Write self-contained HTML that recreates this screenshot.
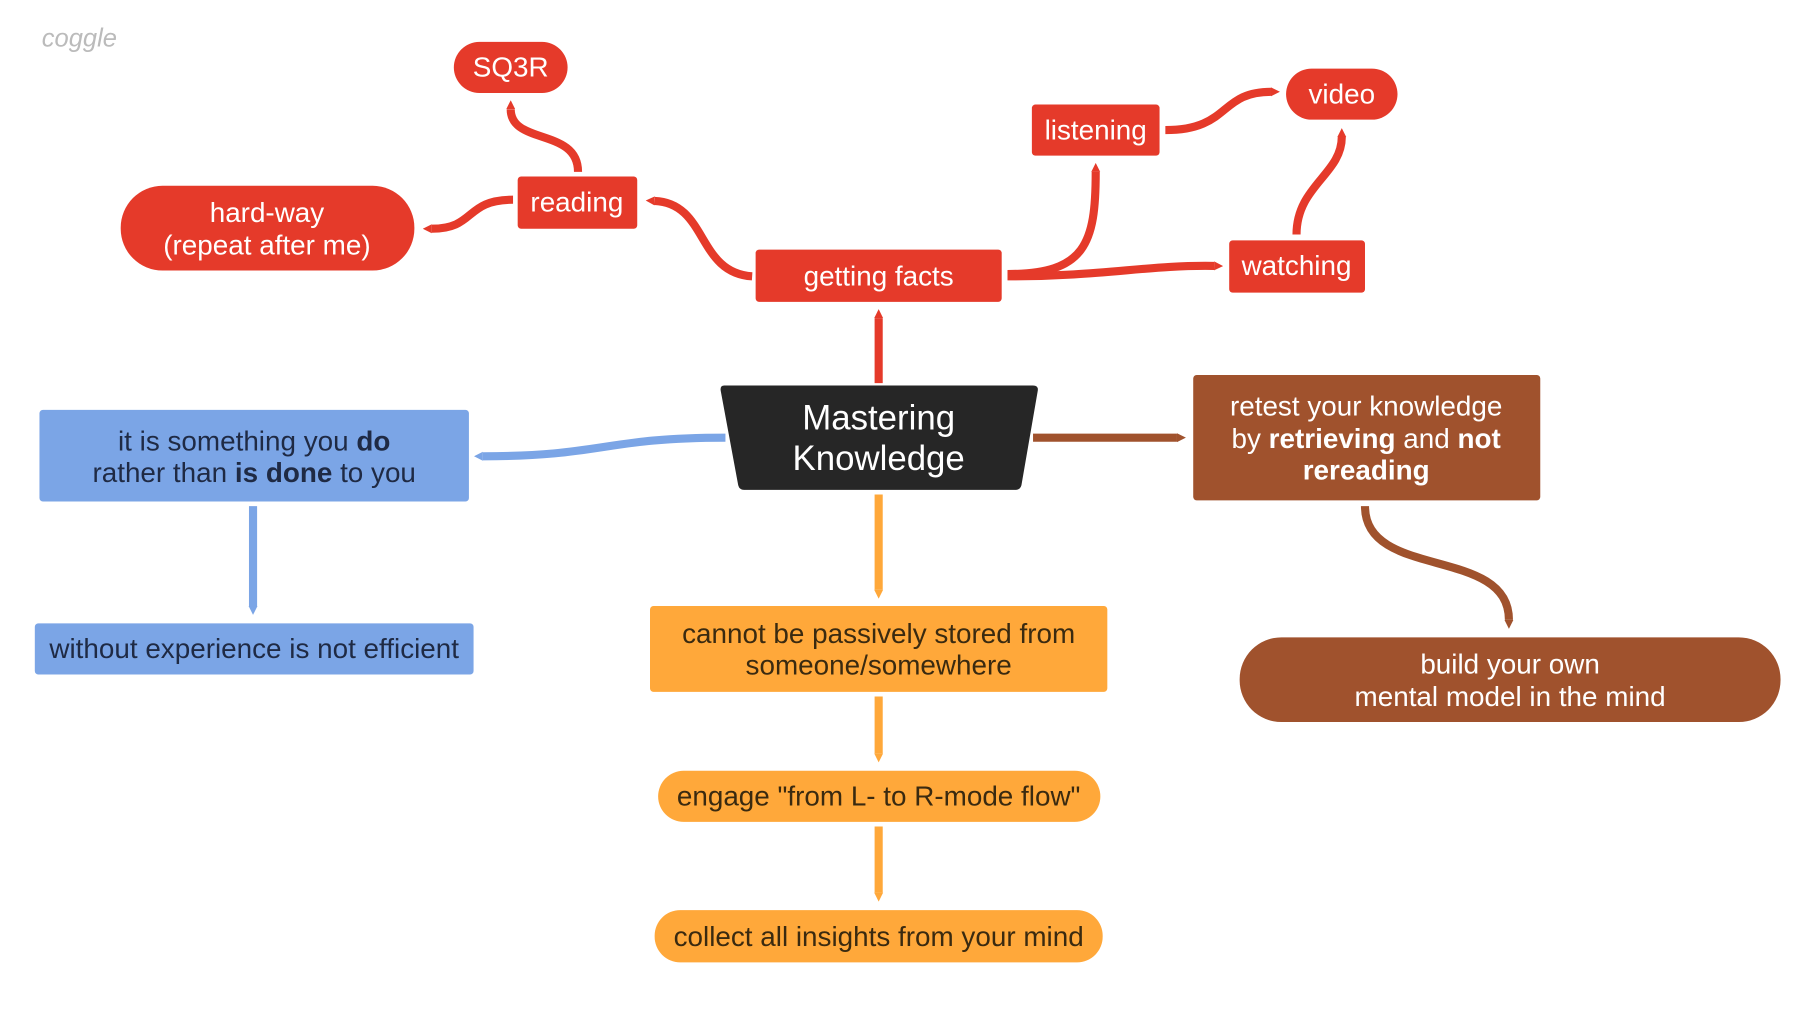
<!DOCTYPE html>
<html><head><meta charset="utf-8"><style>
html,body{margin:0;padding:0;background:#fff;width:1820px;height:1010px;overflow:hidden}
svg{display:block}
text{font-family:"Liberation Sans",Arial,sans-serif}
</style></head><body>
<svg width="1820" height="1010" viewBox="0 0 1568 870" xmlns="http://www.w3.org/2000/svg">
<defs>
<marker id="mr" viewBox="0 0 4 4" refX="0" refY="2" markerWidth="1.1" markerHeight="1.2" orient="auto" markerUnits="strokeWidth"><path d="M0 0 L4 2 L0 4Z" fill="#e53a2a"/></marker>
<marker id="mb" viewBox="0 0 4 4" refX="0" refY="2" markerWidth="1.1" markerHeight="1.2" orient="auto" markerUnits="strokeWidth"><path d="M0 0 L4 2 L0 4Z" fill="#7ba5e6"/></marker>
<marker id="mn" viewBox="0 0 4 4" refX="0" refY="2" markerWidth="1.1" markerHeight="1.2" orient="auto" markerUnits="strokeWidth"><path d="M0 0 L4 2 L0 4Z" fill="#a0522d"/></marker>
<marker id="mo" viewBox="0 0 4 4" refX="0" refY="2" markerWidth="1.1" markerHeight="1.2" orient="auto" markerUnits="strokeWidth"><path d="M0 0 L4 2 L0 4Z" fill="#ffa83a"/></marker>
</defs>
<text x="36" y="40" font-size="22" fill="#bbb" font-style="italic" font-family="Liberation Serif,serif">coggle</text>
<g fill="none" stroke-width="7" stroke-linecap="butt">
<path d="M757 330 L757 274" stroke="#e53a2a" marker-end="url(#mr)"/>
<path d="M648 238 C600 235 610 175 564 173" stroke="#e53a2a" marker-end="url(#mr)"/>
<path d="M442 172 C400 172 410 197 372 197" stroke="#e53a2a" marker-end="url(#mr)"/>
<path d="M498 148 C498 110 440 125 440 94" stroke="#e53a2a" marker-end="url(#mr)"/>
<path d="M868 236 C935 236 944 210 944 148" stroke="#e53a2a" marker-end="url(#mr)"/>
<path d="M868 238 C950 238 990 228 1046 229" stroke="#e53a2a" marker-end="url(#mr)"/>
<path d="M1004 112 C1060 112 1050 79 1095 79" stroke="#e53a2a" marker-end="url(#mr)"/>
<path d="M1117 202 C1117 160 1156 150 1156 118" stroke="#e53a2a" marker-end="url(#mr)"/>
<path d="M625 377 C520 377 520 393 416 393" stroke="#7ba5e6" marker-end="url(#mb)"/>
<path d="M218 436 L218 522" stroke="#7ba5e6" marker-end="url(#mb)"/>
<path d="M890 377 L1014 377" stroke="#a0522d" marker-end="url(#mn)"/>
<path d="M1176 436 C1176 500 1300 470 1300 534" stroke="#a0522d" marker-end="url(#mn)"/>
<path d="M757 426 L757 508" stroke="#ffa83a" marker-end="url(#mo)"/>
<path d="M757 600 L757 649" stroke="#ffa83a" marker-end="url(#mo)"/>
<path d="M757 712 L757 769" stroke="#ffa83a" marker-end="url(#mo)"/>
</g>
<rect x="391" y="36" width="98" height="44" rx="22" fill="#e53a2a"/>
<text x="440" y="66" font-size="24" fill="#fff" text-anchor="middle">SQ3R</text>
<rect x="446" y="152" width="103" height="45" rx="3" fill="#e53a2a"/>
<text x="497" y="182" font-size="24" fill="#fff" text-anchor="middle">reading</text>
<rect x="104" y="160" width="253" height="73" rx="36" fill="#e53a2a"/>
<text x="230" y="191" font-size="24" fill="#fff" text-anchor="middle">hard-way</text>
<text x="230" y="219" font-size="24" fill="#fff" text-anchor="middle">(repeat after me)</text>
<rect x="651" y="215" width="212" height="45" rx="3" fill="#e53a2a"/>
<text x="757" y="246" font-size="24" fill="#fff" text-anchor="middle">getting facts</text>
<rect x="889" y="90" width="110" height="44" rx="3" fill="#e53a2a"/>
<text x="944" y="120" font-size="24" fill="#fff" text-anchor="middle">listening</text>
<rect x="1108" y="59" width="96" height="44" rx="22" fill="#e53a2a"/>
<text x="1156" y="89" font-size="24" fill="#fff" text-anchor="middle">video</text>
<rect x="1059" y="207" width="117" height="45" rx="3" fill="#e53a2a"/>
<text x="1117" y="237" font-size="24" fill="#fff" text-anchor="middle">watching</text>
<path d="M624 332 L890 332 Q895 332 894 337 L880 418 Q879 422 875 422 L641 422 Q637 422 636 418 L621 337 Q620 332 624 332Z" fill="#262626"/>
<text x="757" y="370" font-size="30" fill="#fff" text-anchor="middle">Mastering</text>
<text x="757" y="405" font-size="30" fill="#fff" text-anchor="middle">Knowledge</text>
<rect x="34" y="353" width="370" height="79" rx="3" fill="#7ba5e6"/>
<text x="219" y="388" font-size="24" fill="#1f2a44" text-anchor="middle">it is something you <tspan font-weight="bold">do</tspan></text>
<text x="219" y="415" font-size="24" fill="#1f2a44" text-anchor="middle">rather than <tspan font-weight="bold">is done</tspan> to you</text>
<rect x="30" y="537" width="378" height="44" rx="3" fill="#7ba5e6"/>
<text x="219" y="567" font-size="24" fill="#1f2a44" text-anchor="middle">without experience is not efficient</text>
<rect x="1028" y="323" width="299" height="108" rx="3" fill="#a0522d"/>
<text x="1177" y="358" font-size="24" fill="#fff" text-anchor="middle">retest your knowledge</text>
<text x="1177" y="386" font-size="24" fill="#fff" text-anchor="middle">by <tspan font-weight="bold">retrieving</tspan> and <tspan font-weight="bold">not</tspan></text>
<text x="1177" y="413" font-size="24" fill="#fff" text-anchor="middle" font-weight="bold">rereading</text>
<rect x="1068" y="549" width="466" height="73" rx="36" fill="#a0522d"/>
<text x="1301" y="580" font-size="24" fill="#fff" text-anchor="middle">build your own</text>
<text x="1301" y="608" font-size="24" fill="#fff" text-anchor="middle">mental model in the mind</text>
<rect x="560" y="522" width="394" height="74" rx="3" fill="#ffa83a"/>
<text x="757" y="554" font-size="24" fill="#3a2a10" text-anchor="middle">cannot be passively stored from</text>
<text x="757" y="581" font-size="24" fill="#3a2a10" text-anchor="middle">someone/somewhere</text>
<rect x="567" y="664" width="381" height="44" rx="22" fill="#ffa83a"/>
<text x="757" y="694" font-size="24" fill="#3a2a10" text-anchor="middle">engage "from L- to R-mode flow"</text>
<rect x="564" y="784" width="386" height="45" rx="22" fill="#ffa83a"/>
<text x="757" y="815" font-size="24" fill="#3a2a10" text-anchor="middle">collect all insights from your mind</text>
</svg>
</body></html>
